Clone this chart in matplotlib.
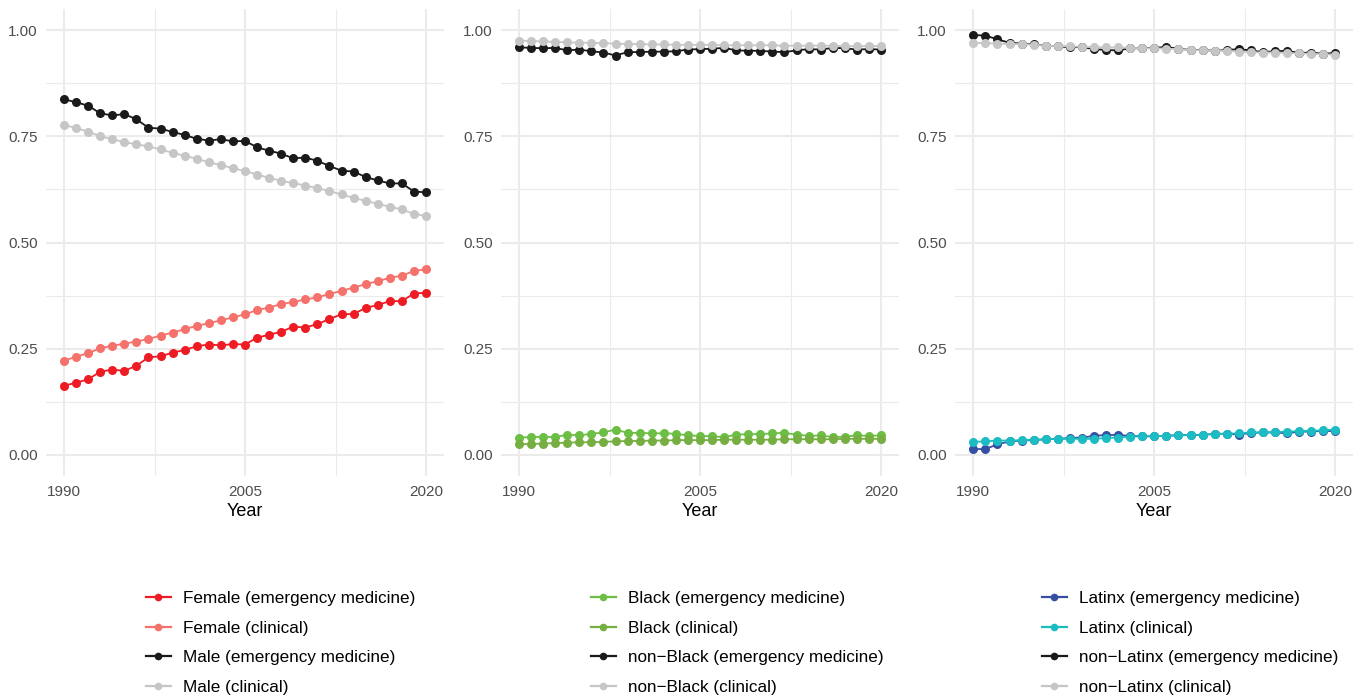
import numpy as np
import matplotlib
matplotlib.use("Agg")
import matplotlib.pyplot as plt
from matplotlib.ticker import MultipleLocator, FixedLocator

plt.rcParams['font.family'] = ['Liberation Sans', 'DejaVu Sans']

years = np.arange(1990, 2021)

# panel 1: gender
female_em = [0.163, 0.170, 0.178, 0.196, 0.201, 0.198, 0.210, 0.230, 0.232, 0.241, 0.247,
             0.256, 0.260, 0.258, 0.261, 0.260, 0.276, 0.283, 0.290, 0.302, 0.300,
             0.308, 0.320, 0.331, 0.332, 0.346, 0.353, 0.362, 0.362, 0.380, 0.382]
female_cl = [0.222, 0.231, 0.240, 0.251, 0.257, 0.262, 0.267, 0.273, 0.281, 0.288, 0.296,
             0.304, 0.310, 0.317, 0.324, 0.331, 0.341, 0.347, 0.355, 0.360, 0.366,
             0.371, 0.379, 0.386, 0.394, 0.402, 0.409, 0.417, 0.422, 0.433, 0.437]
male_em = [0.837, 0.830, 0.822, 0.804, 0.799, 0.802, 0.790, 0.770, 0.768, 0.760, 0.753,
           0.744, 0.740, 0.743, 0.738, 0.739, 0.724, 0.716, 0.709, 0.698, 0.700,
           0.692, 0.680, 0.669, 0.667, 0.654, 0.646, 0.639, 0.639, 0.620, 0.618]
male_cl = [0.777, 0.769, 0.761, 0.750, 0.743, 0.736, 0.731, 0.726, 0.719, 0.711, 0.704,
           0.697, 0.689, 0.682, 0.675, 0.668, 0.660, 0.652, 0.645, 0.640, 0.634,
           0.628, 0.621, 0.613, 0.605, 0.598, 0.591, 0.584, 0.578, 0.567, 0.563]

# panel 2: Black
black_em = [0.041, 0.042, 0.043, 0.042, 0.048, 0.046, 0.050, 0.053, 0.060, 0.052, 0.052,
            0.051, 0.051, 0.050, 0.046, 0.045, 0.044, 0.042, 0.048, 0.049, 0.049,
            0.051, 0.052, 0.048, 0.045, 0.046, 0.042, 0.043, 0.046, 0.045, 0.046]
black_cl = [0.025, 0.026, 0.027, 0.028, 0.029, 0.030, 0.030, 0.031, 0.032, 0.033, 0.033,
            0.034, 0.034, 0.035, 0.035, 0.035, 0.035, 0.036, 0.036, 0.036, 0.036,
            0.036, 0.037, 0.037, 0.037, 0.037, 0.037, 0.038, 0.038, 0.038, 0.038]
nonblack_em = [0.959, 0.958, 0.957, 0.958, 0.952, 0.954, 0.950, 0.947, 0.940, 0.948, 0.948,
               0.949, 0.949, 0.950, 0.954, 0.955, 0.956, 0.958, 0.952, 0.951, 0.951,
               0.949, 0.948, 0.952, 0.955, 0.954, 0.958, 0.957, 0.954, 0.955, 0.954]
nonblack_cl = [0.975, 0.974, 0.973, 0.972, 0.971, 0.970, 0.970, 0.969, 0.968, 0.967, 0.967,
               0.966, 0.966, 0.965, 0.965, 0.965, 0.965, 0.964, 0.964, 0.964, 0.964,
               0.964, 0.963, 0.963, 0.963, 0.963, 0.963, 0.962, 0.962, 0.962, 0.962]

# panel 3: Latinx
latinx_em = [0.014, 0.014, 0.025, 0.032, 0.034, 0.035, 0.037, 0.038, 0.040, 0.041, 0.045,
             0.047, 0.047, 0.045, 0.044, 0.044, 0.045, 0.047, 0.047, 0.047, 0.050,
             0.050, 0.048, 0.052, 0.053, 0.053, 0.051, 0.055, 0.055, 0.057, 0.056]
latinx_cl = [0.031, 0.032, 0.034, 0.034, 0.035, 0.036, 0.037, 0.038, 0.038, 0.038, 0.038,
             0.040, 0.041, 0.043, 0.044, 0.044, 0.045, 0.046, 0.047, 0.048, 0.049,
             0.050, 0.051, 0.053, 0.053, 0.054, 0.055, 0.056, 0.057, 0.058, 0.060]
nonlatinx_em = [0.988, 0.987, 0.978, 0.970, 0.968, 0.966, 0.963, 0.962, 0.959, 0.960, 0.955,
                0.953, 0.952, 0.957, 0.957, 0.958, 0.960, 0.956, 0.953, 0.953, 0.951,
                0.953, 0.955, 0.952, 0.948, 0.950, 0.951, 0.946, 0.947, 0.944, 0.946]
nonlatinx_cl = [0.970, 0.969, 0.968, 0.967, 0.967, 0.965, 0.963, 0.962, 0.962, 0.960, 0.960,
                0.959, 0.959, 0.958, 0.957, 0.957, 0.956, 0.955, 0.953, 0.952, 0.951,
                0.951, 0.949, 0.948, 0.947, 0.947, 0.946, 0.945, 0.944, 0.943, 0.942]

panels = [
    [("Female (emergency medicine)", female_em, "#ED1C24"),
     ("Female (clinical)", female_cl, "#F4726B"),
     ("Male (emergency medicine)", male_em, "#1A1A1A"),
     ("Male (clinical)", male_cl, "#C6C6C6")],
    [("Black (emergency medicine)", black_em, "#6CBE45"),
     ("Black (clinical)", black_cl, "#76AE42"),
     ("non\u2212Black (emergency medicine)", nonblack_em, "#1A1A1A"),
     ("non\u2212Black (clinical)", nonblack_cl, "#C6C6C6")],
    [("Latinx (emergency medicine)", latinx_em, "#3550A3"),
     ("Latinx (clinical)", latinx_cl, "#1CBDC2"),
     ("non\u2212Latinx (emergency medicine)", nonlatinx_em, "#1A1A1A"),
     ("non\u2212Latinx (clinical)", nonlatinx_cl, "#C6C6C6")],
]

W, H = 1364, 699
fig = plt.figure(figsize=(W / 100, H / 100), dpi=100)

lefts = [45.9, 500.9, 955.2]
ax_w = 398.2
ax_top, ax_bot = 8.75, 476.25
legend_x = [146, 591, 1042]

for i, series in enumerate(panels):
    ax = fig.add_axes([lefts[i] / W, 1 - ax_bot / H, ax_w / W, (ax_bot - ax_top) / H])
    handles = []
    for label, vals, col in series:
        h, = ax.plot(years, vals, color=col, lw=1.3, marker='o', ms=6.5,
                     markeredgewidth=0, label=label)
        handles.append(h)
    ax.set_xlim(1988.5, 2021.5)
    ax.set_ylim(-0.05, 1.05)
    ax.xaxis.set_major_locator(FixedLocator([1990, 2005, 2020]))
    ax.xaxis.set_minor_locator(FixedLocator([1997.5, 2012.5]))
    ax.yaxis.set_major_locator(MultipleLocator(0.25))
    ax.yaxis.set_minor_locator(MultipleLocator(0.125))
    ax.yaxis.set_major_formatter(plt.FuncFormatter(lambda v, p: f"{v:.2f}"))
    ax.grid(which='major', color='#EBEBEB', lw=1.5)
    ax.grid(which='minor', color='#EBEBEB', lw=0.8)
    ax.set_axisbelow(True)
    for s in ax.spines.values():
        s.set_visible(False)
    ax.tick_params(which='both', length=0, labelsize=11, colors='#4D4D4D', pad=6)
    ax.set_xlabel("Year", fontsize=13, color='black', labelpad=3)

    leg = fig.legend(handles=handles, loc='upper left',
                     bbox_to_anchor=(legend_x[i] / W, 1 - 591 / H),
                     frameon=False, fontsize=12.3, borderpad=0, borderaxespad=0,
                     handlelength=1.45, handletextpad=0.72, labelspacing=0.85)
    for lh in leg.get_lines():
        lh.set_markersize(5.5)
        lh.set_linewidth(1.6)

fig.savefig("out.png", dpi=100)
